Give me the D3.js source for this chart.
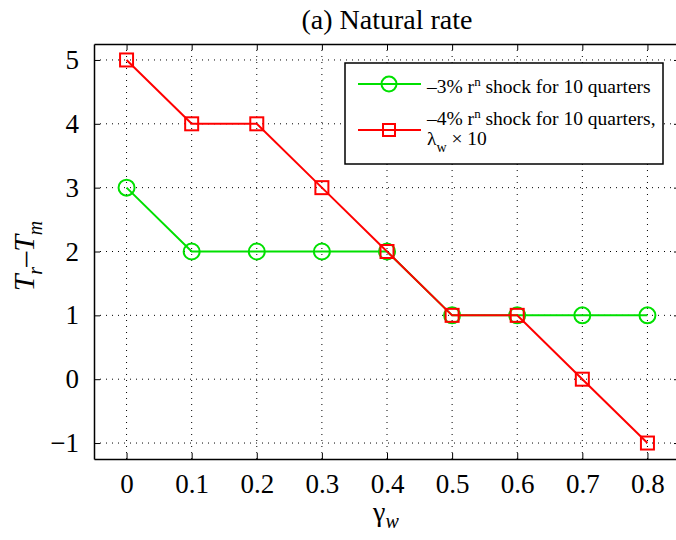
<!DOCTYPE html>
<html>
<head>
<meta charset="utf-8">
<script src="https://cdn.jsdelivr.net/npm/d3@7"></script>
<style>
  body { margin: 0; background: #fff; }
  svg text { font-family: "Liberation Serif", "DejaVu Serif", serif; fill: #000; }
</style>
</head>
<body>
<div id="chart"></div>
<script>
let width = 676;
let height = 540;

let gammaW = [0, 0.1, 0.2, 0.3, 0.4, 0.5, 0.6, 0.7, 0.8];
let shock3 = [3, 2, 2, 2, 2, 1, 1, 1, 1];
let shock4 = [5, 4, 4, 3, 2, 1, 1, 0, -1];
let xTicks = [0, 0.1, 0.2, 0.3, 0.4, 0.5, 0.6, 0.7, 0.8];
let yTicks = [-1, 0, 1, 2, 3, 4, 5];

let green = '#00e000';
let red = '#ff0000';

let svg = d3.select('#chart').append('svg')
  .attr('width', width)
  .attr('height', height);

let x = d3.scaleLinear().domain([-0.05, 0.85]).range([94, 680]);
let y = d3.scaleLinear().domain([-1.25, 5.25]).range([459, 44]);

// grid
let grid = svg.append('g')
  .attr('stroke', '#000')
  .attr('stroke-width', 1)
  .attr('stroke-dasharray', '1,5');

grid.selectAll('.gx').data(xTicks).enter().append('line')
  .attr('x1', d => x(d)).attr('x2', d => x(d))
  .attr('y1', y.range()[0]).attr('y2', y.range()[1]);

grid.selectAll('.gy').data(yTicks).enter().append('line')
  .attr('y1', d => y(d)).attr('y2', d => y(d))
  .attr('x1', x.range()[0]).attr('x2', x.range()[1]);

// axes (ticks inside)
let axB = svg.append('g')
  .attr('transform', `translate(0,${y.range()[0]})`)
  .call(d3.axisBottom(x).tickValues(xTicks).tickSizeInner(-6).tickSizeOuter(0).tickPadding(15)
    .tickFormat(d => d3.format('')(d)));
let axT = svg.append('g')
  .attr('transform', `translate(0,${y.range()[1]})`)
  .call(d3.axisTop(x).tickValues(xTicks).tickSizeInner(-6).tickSizeOuter(0).tickFormat(''));
let axL = svg.append('g')
  .attr('transform', `translate(${x.range()[0]},0)`)
  .call(d3.axisLeft(y).tickValues(yTicks).tickSizeInner(-6).tickSizeOuter(0).tickPadding(15)
    .tickFormat(d => d < 0 ? '\u2212' + Math.abs(d) : d));
let axR = svg.append('g')
  .attr('transform', `translate(${x.range()[1]},0)`)
  .call(d3.axisRight(y).tickValues(yTicks).tickSizeInner(-6).tickSizeOuter(0).tickFormat(''));

for (let ax of [axB, axT, axL, axR]) {
  ax.select('.domain').attr('stroke', '#000').attr('stroke-width', 1.5);
  ax.selectAll('.tick line').attr('stroke', '#000');
  ax.selectAll('text')
    .attr('fill', '#000')
    .attr('font-family', '"Liberation Serif", serif')
    .attr('font-size', 27);
}

// series
function drawSeries(values, color, marker) {
  let pts = gammaW.map((g, i) => ({ g, v: values[i] }));
  let line = d3.line().x(d => x(d.g)).y(d => y(d.v));

  svg.append('path')
    .datum(pts)
    .attr('d', line)
    .attr('fill', 'none')
    .attr('stroke', color)
    .attr('stroke-width', 2);

  let m = svg.append('g').selectAll('.m').data(pts).enter();
  if (marker === 'circle') {
    m.append('circle')
      .attr('cx', d => x(d.g)).attr('cy', d => y(d.v)).attr('r', 8)
      .attr('fill', 'none').attr('stroke', color).attr('stroke-width', 2);
  } else {
    m.append('rect')
      .attr('x', d => x(d.g) - 6.5).attr('y', d => y(d.v) - 6.5)
      .attr('width', 13).attr('height', 13)
      .attr('fill', 'none').attr('stroke', color).attr('stroke-width', 2);
  }
}

drawSeries(shock3, green, 'circle');
drawSeries(shock4, red, 'square');

// title
svg.append('text')
  .attr('x', 387).attr('y', 29)
  .attr('text-anchor', 'middle')
  .attr('font-size', 28)
  .text('(a) Natural rate');

// x label
let xl = svg.append('text')
  .attr('x', 373).attr('y', 521)
  .attr('font-size', 28);
xl.append('tspan').text('\u03b3');
xl.append('tspan').attr('dy', 7).attr('font-size', 20).attr('font-style', 'italic').text('w');

// y label
let yl = svg.append('text')
  .attr('transform', 'translate(34,256) rotate(-90)')
  .attr('text-anchor', 'middle')
  .attr('font-size', 30)
  .attr('font-style', 'italic');
yl.append('tspan').text('T');
yl.append('tspan').attr('dy', 8).attr('font-size', 20).text('r');
yl.append('tspan').attr('dy', -8).attr('font-style', 'normal').text('\u2013');
yl.append('tspan').text('T');
yl.append('tspan').attr('dy', 8).attr('font-size', 20).text('m');

// legend
let lg = svg.append('g');
lg.append('rect')
  .attr('x', 345).attr('y', 63).attr('width', 318).attr('height', 101)
  .attr('fill', '#fff').attr('stroke', '#000').attr('stroke-width', 1.5);

let legendRows = [
  { color: green, marker: 'circle', y: 84 },
  { color: red, marker: 'square', y: 130 }
];

for (let r of legendRows) {
  lg.append('line')
    .attr('x1', 358).attr('x2', 421).attr('y1', r.y).attr('y2', r.y)
    .attr('stroke', r.color).attr('stroke-width', 2);
  if (r.marker === 'circle') {
    lg.append('circle').attr('cx', 389).attr('cy', r.y).attr('r', 7.5)
      .attr('fill', 'none').attr('stroke', r.color).attr('stroke-width', 2);
  } else {
    lg.append('rect').attr('x', 383).attr('y', r.y - 6).attr('width', 12).attr('height', 12)
      .attr('fill', 'none').attr('stroke', r.color).attr('stroke-width', 2);
  }
}

function shockText(yPos, pct, tail) {
  let t = lg.append('text').attr('x', 427).attr('y', yPos).attr('font-size', 19.5);
  t.append('tspan').text('\u2013' + pct + '% r');
  t.append('tspan').attr('dy', -7).attr('font-size', 13).text('n');
  t.append('tspan').attr('dy', 7).text(' shock for 10 quarters' + tail);
}
shockText(93, 3, '');
shockText(125, 4, ',');

let lt = lg.append('text').attr('x', 427).attr('y', 145).attr('font-size', 19.5);
lt.append('tspan').text('\u03bb');
lt.append('tspan').attr('dy', 7).attr('font-size', 14).text('w');
lt.append('tspan').attr('dy', -7).text(' \u00d7 10');
</script>
</body>
</html>
